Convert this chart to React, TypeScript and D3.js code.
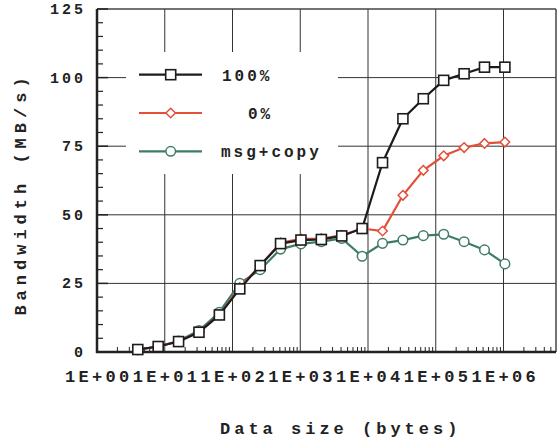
import React from "react";
import * as d3 from "d3";

const sizes = [4, 8, 16, 32, 64, 128, 256, 512, 1024, 2048, 4096, 8192, 16384, 32768, 65536, 131072, 262144, 524288, 1048576];
const full100 = [0.9, 2, 3.8, 7.2, 13.5, 23, 31.5, 39.5, 40.8, 41, 42.3, 45, 69, 85, 92.3, 99, 101.4, 103.8, 103.8];
const zero = [0.9, 2, 3.8, 7.2, 13.5, 23.5, 31.5, 39.8, 41.2, 41.3, 42.5, 45, 44.1, 57.1, 66.2, 71.5, 74.5, 76, 76.5];
const msgCopy = [0.8, 2, 4, 7.8, 14.5, 25, 30, 37.5, 39.4, 40.2, 41.4, 34.9, 39.6, 40.8, 42.4, 42.9, 40.2, 37.2, 32.1];
const xTickLabels = ["1E+00", "1E+01", "1E+02", "1E+03", "1E+04", "1E+05", "1E+06"];
const xTickValues = [1, 10, 100, 1000, 10000, 100000, 1000000];
const yTickValues = [0, 25, 50, 75, 100, 125];
const seriesNames = ["100%", "0%", "msg+copy"];

const W = 557, H = 441;
const L = 97, T = 9, B = 352, R = 556;
const DEC = 67.75;
const FONT = "'Liberation Mono', 'Courier New', monospace";

export default function App() {
  const x = d3.scaleLog().domain([1, 1e7]).range([L, L + 7 * DEC]);
  const y = d3.scaleLinear().domain([0, 125]).range([B, T]);

  const line = d3
    .line<number>()
    .x((_, i) => x(sizes[i]))
    .y((d) => y(d));

  const minorX: number[] = [];
  for (let e = 0; e < 7; e++) {
    for (let m = 2; m <= 9; m++) {
      const v = m * Math.pow(10, e);
      if (x(v) < R - 2) minorX.push(v);
    }
  }
  const minorY: number[] = [];
  for (let v = 5; v < 125; v += 5) if (v % 25 !== 0) minorY.push(v);

  const black = "#1c1c1c";
  const red = "#e2503a";
  const green = "#3f7c66";

  const legendY = [74.7, 113, 151.3];
  const legendText = [
    { x: 222 },
    { x: 248 },
    { x: 221 },
  ];

  const square = (cx: number, cy: number, k: string) => (
    <rect key={k} x={cx - 5} y={cy - 5} width={10} height={10} fill="#fff" stroke={black} strokeWidth={1.6} />
  );
  const diamond = (cx: number, cy: number, k: string) => (
    <path key={k} d={`M${cx},${cy - 4.8}L${cx + 4.8},${cy}L${cx},${cy + 4.8}L${cx - 4.8},${cy}Z`} fill="#fff" stroke={red} strokeWidth={1.5} />
  );
  const circle = (cx: number, cy: number, k: string) => (
    <circle key={k} cx={cx} cy={cy} r={4.8} fill="#fff" stroke={green} strokeWidth={1.5} />
  );

  return (
    <svg width={W} height={H} style={{ position: "absolute", left: 0, top: 0, background: "#fff" }}>
      <rect x={0} y={0} width={W} height={H} fill="#fff" />
      {/* gridlines */}
      {xTickValues.slice(1).map((v) => (
        <line key={"gx" + v} x1={x(v)} x2={x(v)} y1={T} y2={B} stroke="#333" strokeWidth={1} />
      ))}
      {yTickValues.slice(1, -1).map((v) => (
        <line key={"gy" + v} x1={L} x2={R} y1={y(v)} y2={y(v)} stroke="#333" strokeWidth={1} />
      ))}
      {/* frame top/right */}
      <line x1={L} x2={R} y1={T} y2={T} stroke="#444" strokeWidth={1.5} />
      <line x1={R} x2={R} y1={T} y2={B} stroke="#444" strokeWidth={1.5} />
      {/* legend box */}
      <rect x={126} y={52} width={212} height={122} fill="#fff" />
      {/* minor ticks */}
      {minorX.map((v) => (
        <line key={"mx" + v} x1={x(v)} x2={x(v)} y1={B} y2={B - 5} stroke="#222" strokeWidth={1} />
      ))}
      {minorY.map((v) => (
        <line key={"my" + v} x1={L} x2={L + 6} y1={y(v)} y2={y(v)} stroke="#222" strokeWidth={1.2} />
      ))}
      {yTickValues.slice(1).map((v) => (
        <line key={"My" + v} x1={L} x2={L + 11} y1={y(v)} y2={y(v)} stroke="#222" strokeWidth={1.5} />
      ))}
      {/* axes */}
      <line x1={L} x2={L} y1={T} y2={B + 1} stroke="#222" strokeWidth={2.5} />
      <line x1={L - 1} x2={R} y1={B} y2={B} stroke="#222" strokeWidth={2.5} />
      {/* y tick labels */}
      {yTickValues.map((v) => (
        <text key={"yl" + v} x={86} y={y(v) + 5} textAnchor="end" fontFamily={FONT} fontWeight="bold" fontSize={15} letterSpacing={3} fill="#222">
          {String(v)}
        </text>
      ))}
      {/* x tick labels */}
      {xTickValues.map((v, i) => (
        <text key={"xl" + v} x={x(v) - 32} y={382} textAnchor="start" fontFamily={FONT} fontWeight="bold" fontSize={17} letterSpacing={3.3} fill="#222">
          {xTickLabels[i]}
        </text>
      ))}
      {/* axis titles */}
      <text x={220} y={434} fontFamily={FONT} fontWeight="bold" fontSize={17} letterSpacing={4} fill="#222">
        Data size (bytes)
      </text>
      <text transform="translate(26,194) rotate(-90)" textAnchor="middle" fontFamily={FONT} fontWeight="bold" fontSize={17} letterSpacing={5} fill="#222">
        Bandwidth (MB/s)
      </text>
      {/* series */}
      <path d={line(msgCopy) || ""} fill="none" stroke={green} strokeWidth={2.2} />
      {msgCopy.map((d, i) => circle(x(sizes[i]), y(d), "c" + i))}
      <path d={line(zero) || ""} fill="none" stroke={red} strokeWidth={2.2} />
      {zero.map((d, i) => diamond(x(sizes[i]), y(d), "d" + i))}
      <path d={line(full100) || ""} fill="none" stroke={black} strokeWidth={2.2} />
      {full100.map((d, i) => square(x(sizes[i]), y(d), "s" + i))}
      {/* legend */}
      {seriesNames.map((name, i) => {
        const col = [black, red, green][i];
        const cy = legendY[i];
        return (
          <g key={"lg" + i}>
            <line x1={139} x2={202} y1={cy} y2={cy} stroke={col} strokeWidth={2.2} />
            {i === 0 ? square(170.7, cy, "ls") : i === 1 ? diamond(170.7, cy, "ld") : circle(170.7, cy, "lc")}
            <text x={legendText[i].x} y={cy + 6} fontFamily={FONT} fontWeight="bold" fontSize={16} letterSpacing={3} fill="#222">
              {name}
            </text>
          </g>
        );
      })}
    </svg>
  );
}
